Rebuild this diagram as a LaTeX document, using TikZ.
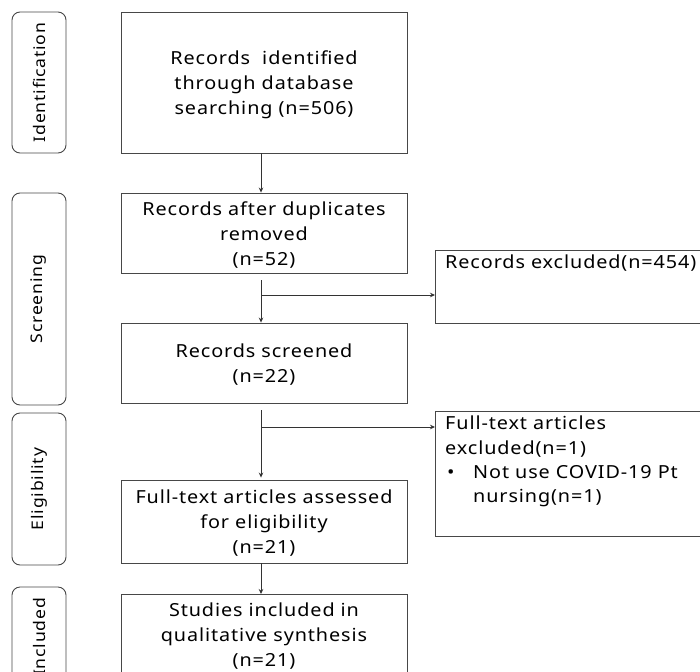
\documentclass[tikz,border=0pt]{standalone}
\usepackage{fontspec}
\setmainfont[FakeStretch=1.1,LetterSpace=5]{Noto Sans}
\usetikzlibrary{arrows.meta,calc}
\begin{document}
\begin{tikzpicture}[x=1pt,y=-1pt,
  mainbox/.style={draw=black!72, line width=0.9pt, minimum width=286pt,
    align=center, inner sep=0pt, font=\fontsize{18}{25}\selectfont},
  maintext/.style={align=center, inner sep=0pt, font=\fontsize{18}{25}\selectfont},
  sidebox/.style={draw=black!72, line width=0.9pt, rounded corners=8pt,
    rotate=90, minimum height=54pt, inner sep=0pt, font=\fontsize{16}{20}\selectfont},
  exbox/.style={draw=black!72, line width=0.9pt, anchor=north west, minimum width=300pt, inner sep=0pt},
  extext/.style={anchor=north west, align=left, inner sep=0pt, font=\fontsize{18}{24.5}\selectfont},
  flow/.style={draw=black!80, line width=0.8pt},
  arr/.style={flow, -{Stealth[length=5pt,width=4.5pt]}}
]
\useasboundingbox (0,0) rectangle (700,671);

% stage labels
\node[sidebox, minimum width=141pt] (sid) at (39,82.5) {Identification};
\node[sidebox, minimum width=212pt] (sscr) at (39,299) {Screening};
\node[sidebox, minimum width=152pt] (selg) at (39,489) {Eligibility};
\node[sidebox, minimum width=98pt] (sinc) at (39,636) {};
\node[rotate=90, inner sep=0pt, font=\fontsize{16}{20}\selectfont] (sinct) at (39,637) {Included};

% main column: frames, with their texts set slightly below centre
\node[mainbox, minimum height=141pt] (ident) at (264,82.5) {};
\node[maintext] (identt) at (264,85)
  {Records\ \ identified\\through database\\searching (n=506)};
\node[mainbox, minimum height=80pt] (dup) at (264,233) {};
\node[maintext] (dupt) at (264,235)
  {Records after duplicates\\removed\\(n=52)};
\node[mainbox, minimum height=80pt] (scr) at (264,363) {};
\node[maintext] (scrt) at (264,365)
  {Records screened\\(n=22)};
\node[mainbox, minimum height=83pt] (full) at (264,521.5) {};
\node[maintext] (fullt) at (264,523.5)
  {Full-text articles assessed\\for eligibility\\(n=21)};
\node[mainbox, minimum height=92pt, anchor=north] (incl) at (264,594) {};
\node[maintext] (inclt) at (264,636)
  {Studies included in\\qualitative synthesis\\(n=21)};

% exclusion boxes
\node[exbox, minimum height=73pt] (ex1) at (435,250) {};
\node[extext] (ex1t) at (445,255) {Records excluded(n=454)};
\node[exbox, minimum height=125pt] (ex2) at (435,411) {};
\node[extext] (ex2t) at (445,416)
  {Full-text articles\\excluded(n=1)\\[-0.5pt]%
   \makebox[28pt][l]{\hspace{2pt}•}Not use COVID-19 Pt\\\hspace{28pt}nursing(n=1)};

% connectors
\coordinate (ax) at (261,0);
\coordinate (s1) at ($(dup.south -| ax)+(0,7)$);
\coordinate (b1) at (261,295);
\coordinate (s2) at ($(scr.south -| ax)+(0,7)$);
\coordinate (b2) at (261,427);

\draw[arr] (ident.south -| ax) -- (dup.north -| ax);
\draw[arr] (s1) -- (scr.north -| ax);
\draw[arr] (b1) -- (b1 -| ex1.west);
\draw[arr] (s2) -- ($(full.north -| ax)+(0,-2)$);
\draw[arr] (b2) -- (b2 -| ex2.west);
\draw[arr] (full.south -| ax) -- (incl.north -| ax);
\end{tikzpicture}
\end{document}
